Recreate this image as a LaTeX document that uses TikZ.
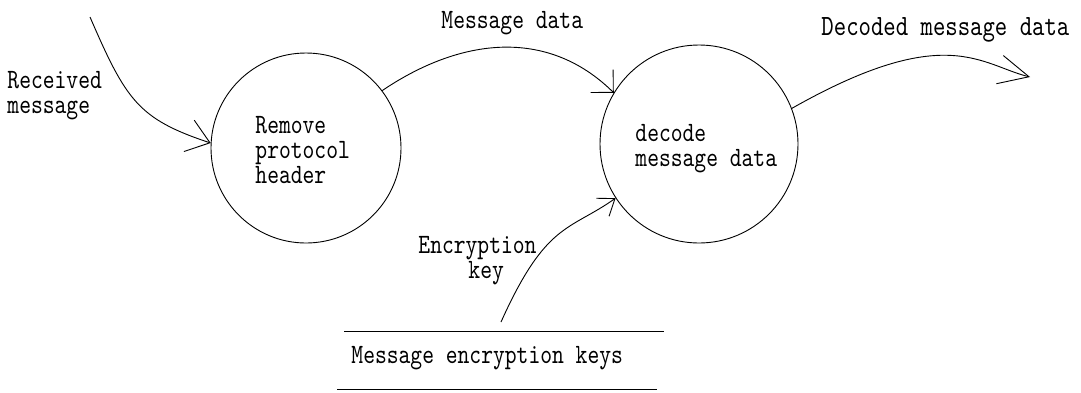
\documentclass[tikz,border=0pt]{standalone}
\usepackage{fontspec}
\setmainfont[FakeStretch=0.803]{lmmono10-regular.otf}
\usetikzlibrary{arrows.meta}
\begin{document}
\begin{tikzpicture}[x=1pt,y=-1pt,line width=0.9pt,
  txt/.style={font=\fontsize{28}{25}\selectfont},
  lbl/.style={txt,inner sep=0pt,align=left,anchor=base west},
  process/.style={circle,draw,inner sep=0pt},
  flow/.style={draw}]
\useasboundingbox (0,0) rectangle (1081,392);
% processes
\node[process,minimum size=190pt] (c1) at (306,148) {};
\node[process,minimum size=198pt] (c2) at (699,144) {};
\node[lbl] (c1t) at (255,183) {Remove\\protocol\\header};
\node[lbl] (c2t) at (635,166) {decode\\message data};
% data store
\coordinate (st1) at (344,331);
\coordinate (st2) at (664,331);
\coordinate (sb1) at (337,389);
\coordinate (sb2) at (657,389);
\draw (st1) -- (st2);
\draw (sb1) -- (sb2);
\node[lbl] (store) at (351,363) {Message encryption keys};
% free ends
\coordinate (src) at (90,17);
\coordinate (ksrc) at (501,322);
\coordinate (sink) at (1030,77);
% labels
\node[lbl] (lrec) at (7,113) {Received\\message};
\node[lbl] (lmd) at (441,28) {Message data};
\node[lbl,font=\fontsize{29.4}{25}\selectfont] (ldec) at (821,35) {Decoded message data};
\node[lbl] (lkey) at (418,278) {Encryption\\\hspace*{50pt}key};
% flows
\draw[flow,-{Straight Barb[length=22pt,width=33pt]}] (src) .. controls (126,100) and (138,119) .. (c1.177);
\draw[flow,-{Straight Barb[length=16pt,width=32pt]}] (c1.37) .. controls (460,38) and (547,27) .. (c2.149);
\draw[flow,-{Straight Barb[length=15pt,width=22pt]}] (ksrc) .. controls (546,222) and (569,231) .. (c2.213);
\draw[flow,-{Straight Barb[length=30pt,width=29pt]}] (c2.21) .. controls (946,21) and (981,65) .. (sink);
\end{tikzpicture}
\end{document}
